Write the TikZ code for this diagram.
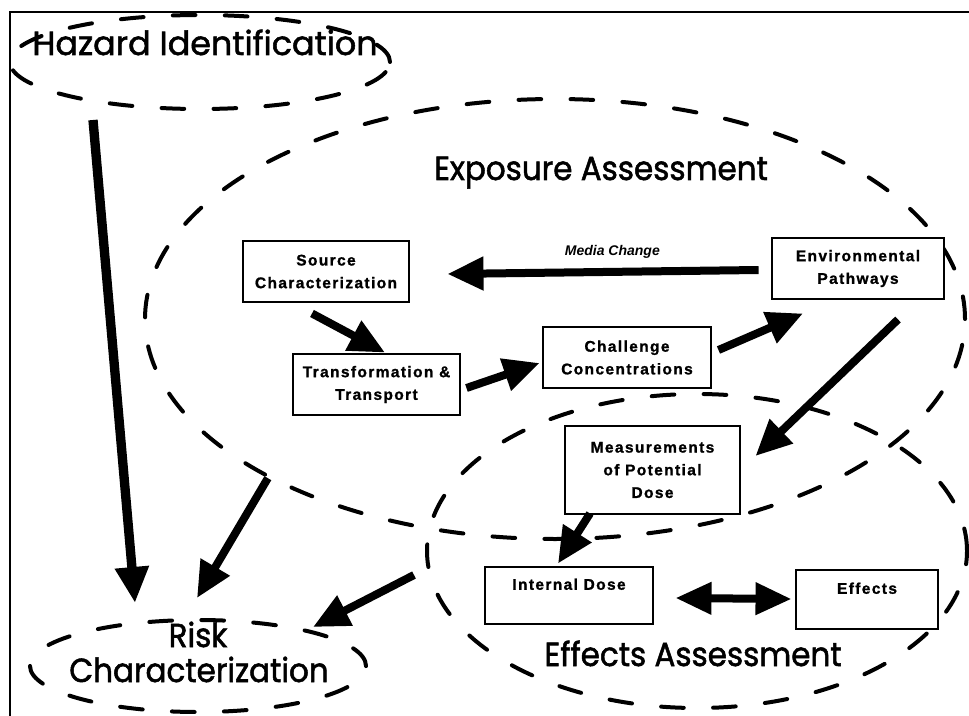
\documentclass[tikz,border=0pt]{standalone}
\usepackage{fontspec}
\setmainfont{Liberation Sans}
\newfontfamily\lblfont[FakeBold=1.6]{Poppins}
\newfontfamily\boxfont[LetterSpace=9,BoldFeatures={FakeBold=1.2}]{Liberation Sans}
\usetikzlibrary{shapes.geometric,arrows.meta,calc}
\tikzset{
  zone/.style={ellipse, draw, line width=3pt, dash pattern=on 17pt off 22pt, line cap=round, inner sep=0pt},
  lbl/.style={font=\lblfont\fontsize{25}{26}\selectfont, inner sep=0pt, anchor=base},
  stepbox/.style={rectangle, draw, fill=white, line width=2.2pt, inner sep=0pt, align=center,
     font=\boxfont\bfseries\fontsize{11.6}{17}\selectfont},
  bigarrow/.style={line width=6pt, -{Triangle[length=27pt,width=24pt]}},
  dblarrow/.style={line width=6pt, {Triangle[length=27pt,width=23pt]}-{Triangle[length=27pt,width=23pt]}},
}
\newcommand{\sq}[2][0.93]{\scalebox{#1}[1]{#2}}
\begin{document}
\begin{tikzpicture}[x=0.75pt,y=-0.75pt]
\useasboundingbox (0,0) rectangle (969,716);
% frame
\draw[line width=1.6pt] (10,716) -- (10,12) -- (969,12);

% dashed zones
\node[zone, minimum width=615pt, minimum height=330pt] (exp) at (555,319) {};
\node[zone, minimum width=405pt, minimum height=235.5pt] (effz) at (697,551) {};
\node[zone, minimum width=285pt, minimum height=70.5pt] (haz) at (200,62) {};
\node[zone, minimum width=252pt, minimum height=69pt] (risk) at (198,666) {};

% zone labels
\node[lbl] (hazlbl) at (205,55) {\sq[1.0]{Hazard Identification}};
\node[lbl] (explbl) at (601,180) {\sq{Exposure Assessment}};
\node[lbl] (efflbl) at (693,666) {\sq{Effects Assessment}};
\node[lbl] (risklbl) at (198,647) {\sq{Risk}};
\node[lbl] (charlbl) at (199,682) {\sq{Characterization}};

% boxes
\node[stepbox, minimum width=124.5pt, minimum height=45.75pt] (src) at (326,271.5) {Source\\Characterization};
\node[stepbox, minimum width=125.25pt, minimum height=45.75pt] (trn) at (376.5,384.5) {Transformation \&\\Transport};
\node[stepbox, minimum width=126pt, minimum height=45.75pt] (chl) at (627,357.5) {Challenge\\Concentrations};
\node[stepbox, minimum width=129pt, minimum height=45.75pt] (env) at (858,268.5) {Environmental\\Pathways};
\node[stepbox, minimum width=131.25pt, minimum height=66pt] (mea) at (652.5,470) {Measurements\\of Potential\\Dose};
\node[stepbox, minimum width=126pt, minimum height=42.75pt] (idose) at (569,595.5) {Internal Dose\\\mbox{}};
\node[stepbox, minimum width=106.5pt, minimum height=44.25pt] (eff) at (867,599.5) {Effects\\\mbox{}};

% arrows inside exposure
\draw[bigarrow] ($(src.south)+(-14,10)$) -- ($(trn.north)+(8.5,0)$);
\draw[bigarrow] ($(trn.east)+(5,3.5)$) -- ($(chl.west)+(-2,5.5)$);
\draw[bigarrow] ($(chl.east)+(6,-7.5)$) -- ($(env.south)+(-55,13)$);
\draw[bigarrow] ($(env.west)+(-12,1.5)$) -- node[above=4pt, xshift=7pt, font=\bfseries\itshape\fontsize{10.5}{12}\selectfont] (medlbl) {Media Change} ($(src.east)+(37,2.5)$);
\draw[bigarrow] ($(env.south)+(40,19)$) -- ($(mea.east)+(14,-14)$);
\draw[bigarrow] ($(mea.south)+(-62.5,-2)$) -- ($(idose.north)+(-11,-2)$);
\draw[dblarrow] ($(idose.east)+(21,2.5)$) -- ($(eff.west)+(-3,-0.5)$);

% arrows into risk characterization
\draw[bigarrow, line width=7pt] ($(haz.south)+(-107,9)$) -- ($(risk.north)+(-63,-15)$);
\draw[bigarrow] (exp.209) -- ($(risk.north)+(-1,-20)$);
\draw[bigarrow] ($(effz.west)+(-11,24)$) -- ($(risk.center)+(115,-39)$);
\end{tikzpicture}
\end{document}
